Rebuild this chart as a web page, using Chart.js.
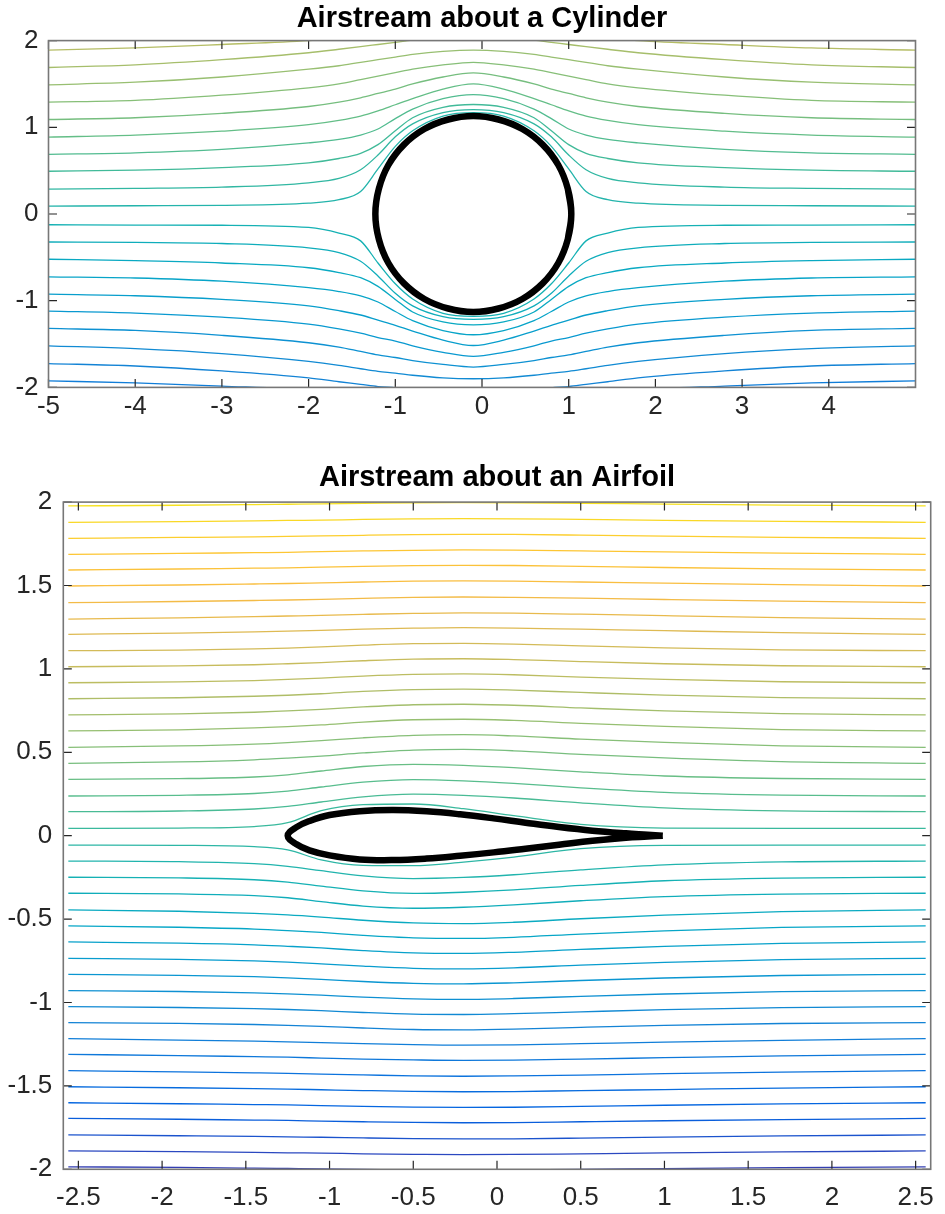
<!DOCTYPE html>
<html>
<head>
<meta charset="utf-8">
<script src="https://cdn.jsdelivr.net/npm/chart.js@4"></script>
<style>
  html, body { margin: 0; padding: 0; background: #fff; overflow: hidden; }
  body { width: 945px; height: 1214px; position: relative; }
  canvas { position: absolute; left: 0; }
  #cyl { top: 0; }
  #air { top: 440px; }
</style>
</head>
<body>
<canvas id="cyl" width="964" height="440"></canvas>
<canvas id="air" width="994" height="774"></canvas>
<script>
// tick values shown on the axes
const cylXTicks = [-5, -4, -3, -2, -1, 0, 1, 2, 3, 4];
const cylYTicks = [-2, -1, 0, 1, 2];
const airXTicks = [-2.5, -2, -1.5, -1, -0.5, 0, 0.5, 1, 1.5, 2, 2.5];
const airYTicks = [-2, -1.5, -1, -0.5, 0, 0.5, 1, 1.5, 2];

// cylinder streamlines: y read at each cylX position
const cylX = [-5, -4, -3, -2, -1.65, -1.4, -1.2, -1, -0.8, -0.45, -0.1, 0.25, 0.6, 0.8, 1, 1.2, 1.45, 1.8, 2.8, 3.8, 5];
const cylUpper = [
  [1.89, 1.915, 1.955, 2.0, 2.03, 2.06, 2.09, 2.12, 2.15, 2.19, 2.2, 2.19, 2.15, 2.12, 2.09, 2.06, 2.03, 2.0, 1.955, 1.915, 1.89],
  [1.69, 1.72, 1.78, 1.86, 1.9, 1.93, 1.955, 1.98, 2.005, 2.035, 2.045, 2.035, 2.005, 1.98, 1.955, 1.93, 1.9, 1.86, 1.78, 1.72, 1.69],
  [1.49, 1.52, 1.58, 1.67, 1.71, 1.75, 1.78, 1.81, 1.84, 1.875, 1.89, 1.875, 1.84, 1.81, 1.78, 1.75, 1.71, 1.67, 1.58, 1.52, 1.49],
  [1.29, 1.31, 1.37, 1.455, 1.5, 1.55, 1.59, 1.63, 1.67, 1.72, 1.75, 1.72, 1.67, 1.63, 1.59, 1.55, 1.5, 1.455, 1.37, 1.31, 1.29],
  [1.09, 1.11, 1.16, 1.24, 1.29, 1.34, 1.39, 1.44, 1.5, 1.58, 1.627, 1.58, 1.5, 1.44, 1.39, 1.34, 1.29, 1.24, 1.16, 1.11, 1.09],
  [0.887, 0.91, 0.955, 1.03, 1.08, 1.13, 1.19, 1.26, 1.33, 1.44, 1.5, 1.44, 1.33, 1.26, 1.19, 1.13, 1.08, 1.03, 0.955, 0.91, 0.887],
  [0.688, 0.705, 0.745, 0.82, 0.86, 0.91, 0.98, 1.1, 1.21, 1.33, 1.378, 1.33, 1.21, 1.1, 0.98, 0.91, 0.86, 0.82, 0.745, 0.705, 0.688],
  [0.493, 0.505, 0.535, 0.59, 0.64, 0.7, 0.8, 0.96, 1.11, 1.23, 1.263, 1.23, 1.11, 0.96, 0.8, 0.7, 0.64, 0.59, 0.535, 0.505, 0.493],
  [0.286, 0.295, 0.31, 0.36, 0.41, 0.51, 0.68, 0.89, 1.04, 1.17, 1.205, 1.17, 1.04, 0.89, 0.68, 0.51, 0.41, 0.36, 0.31, 0.295, 0.286],
  [0.091, 0.095, 0.1, 0.125, 0.165, 0.26, 0.52, 0.78, 0.96, 1.13, 1.17, 1.13, 0.96, 0.78, 0.52, 0.26, 0.165, 0.125, 0.1, 0.095, 0.091]
];
const cylLower = [
  [-0.124, -0.128, -0.13, -0.155, -0.22, -0.31, -0.565, -0.805, -0.98, -1.145, -1.18, -1.145, -0.98, -0.805, -0.565, -0.31, -0.22, -0.155, -0.13, -0.128, -0.124],
  [-0.323, -0.328, -0.34, -0.39, -0.445, -0.545, -0.715, -0.915, -1.06, -1.185, -1.215, -1.185, -1.06, -0.915, -0.715, -0.545, -0.445, -0.39, -0.34, -0.328, -0.323],
  [-0.522, -0.538, -0.565, -0.62, -0.675, -0.735, -0.835, -0.985, -1.13, -1.245, -1.278, -1.245, -1.13, -0.985, -0.835, -0.735, -0.675, -0.62, -0.565, -0.538, -0.522],
  [-0.725, -0.738, -0.775, -0.85, -0.895, -0.945, -1.015, -1.125, -1.23, -1.345, -1.393, -1.345, -1.23, -1.125, -1.015, -0.945, -0.895, -0.85, -0.775, -0.738, -0.725],
  [-0.925, -0.943, -0.985, -1.06, -1.115, -1.165, -1.225, -1.285, -1.35, -1.455, -1.517, -1.455, -1.35, -1.285, -1.225, -1.165, -1.115, -1.06, -0.985, -0.943, -0.925],
  [-1.12, -1.143, -1.19, -1.27, -1.325, -1.375, -1.425, -1.465, -1.52, -1.595, -1.643, -1.595, -1.52, -1.465, -1.425, -1.375, -1.325, -1.27, -1.19, -1.143, -1.12],
  [-1.32, -1.343, -1.4, -1.485, -1.535, -1.585, -1.625, -1.655, -1.69, -1.735, -1.765, -1.735, -1.69, -1.655, -1.625, -1.585, -1.535, -1.485, -1.4, -1.343, -1.32],
  [-1.52, -1.553, -1.61, -1.7, -1.745, -1.785, -1.815, -1.835, -1.86, -1.89, -1.9, -1.89, -1.86, -1.835, -1.815, -1.785, -1.745, -1.7, -1.61, -1.553, -1.52],
  [-1.725, -1.753, -1.81, -1.89, -1.935, -1.965, -1.99, -2.005, -2.025, -2.05, -2.055, -2.05, -2.025, -2.005, -1.99, -1.965, -1.935, -1.89, -1.81, -1.753, -1.725],
  [-1.925, -1.948, -1.985, -2.03, -2.065, -2.095, -2.125, -2.145, -2.17, -2.205, -2.21, -2.205, -2.17, -2.145, -2.125, -2.095, -2.065, -2.03, -1.985, -1.948, -1.925]
];
// cylinder outline (runs a little past one full turn so the join is hidden)
const cylEdgeX = [0.99, 1.03, 0.99, 0.88, 0.7, 0.465, 0.19, -0.1, -0.39, -0.665, -0.9, -1.08, -1.19, -1.23, -1.19, -1.08, -0.9, -0.665, -0.39, -0.1, 0.19, 0.465, 0.7, 0.88, 0.99, 1.03, 0.99];
const cylEdgeY = [-0.29, 0, 0.29, 0.565, 0.8, 0.98, 1.09, 1.13, 1.09, 0.98, 0.8, 0.565, 0.29, 0, -0.29, -0.565, -0.8, -0.98, -1.09, -1.13, -1.09, -0.98, -0.8, -0.565, -0.29, 0, 0.29];

// airfoil streamlines: y read at each airX position
const airX = [-2.56, -1.9, -1.45, -1.25, -1.05, -0.8, -0.5, -0.2, 0.1, 0.5, 1.0, 1.7, 2.56];
const airUpper = [
  [0.044, 0.046, 0.055, 0.078, 0.15, 0.186, 0.19, 0.162, 0.12, 0.068, 0.046, 0.044, 0.044],
  [0.144, 0.148, 0.16, 0.176, 0.202, 0.233, 0.249, 0.242, 0.226, 0.197, 0.167, 0.149, 0.144],
  [0.238, 0.242, 0.253, 0.267, 0.292, 0.321, 0.336, 0.329, 0.314, 0.287, 0.26, 0.243, 0.238],
  [0.338, 0.342, 0.352, 0.365, 0.388, 0.415, 0.428, 0.422, 0.408, 0.383, 0.358, 0.343, 0.338],
  [0.434, 0.442, 0.455, 0.465, 0.477, 0.496, 0.513, 0.517, 0.509, 0.488, 0.466, 0.444, 0.434],
  [0.53, 0.538, 0.549, 0.558, 0.57, 0.587, 0.602, 0.606, 0.598, 0.579, 0.559, 0.539, 0.53],
  [0.628, 0.635, 0.646, 0.654, 0.664, 0.681, 0.695, 0.698, 0.691, 0.674, 0.655, 0.636, 0.628],
  [0.724, 0.73, 0.74, 0.748, 0.757, 0.772, 0.785, 0.788, 0.782, 0.766, 0.748, 0.732, 0.724],
  [0.821, 0.827, 0.836, 0.842, 0.851, 0.865, 0.876, 0.879, 0.873, 0.859, 0.843, 0.828, 0.821],
  [0.917, 0.922, 0.93, 0.937, 0.945, 0.957, 0.967, 0.97, 0.965, 0.951, 0.937, 0.923, 0.917],
  [1.013, 1.018, 1.025, 1.031, 1.038, 1.049, 1.059, 1.061, 1.056, 1.044, 1.031, 1.019, 1.013],
  [1.109, 1.113, 1.12, 1.125, 1.132, 1.142, 1.151, 1.153, 1.149, 1.138, 1.126, 1.114, 1.109],
  [1.207, 1.215, 1.222, 1.226, 1.231, 1.238, 1.244, 1.247, 1.245, 1.238, 1.229, 1.217, 1.207],
  [1.299, 1.306, 1.313, 1.317, 1.321, 1.327, 1.333, 1.336, 1.334, 1.328, 1.319, 1.308, 1.299],
  [1.397, 1.404, 1.41, 1.413, 1.417, 1.423, 1.429, 1.431, 1.429, 1.424, 1.416, 1.406, 1.397],
  [1.497, 1.503, 1.509, 1.512, 1.516, 1.521, 1.526, 1.528, 1.526, 1.521, 1.514, 1.505, 1.497],
  [1.593, 1.599, 1.604, 1.606, 1.61, 1.615, 1.619, 1.621, 1.62, 1.615, 1.608, 1.6, 1.593],
  [1.687, 1.692, 1.697, 1.699, 1.703, 1.707, 1.711, 1.713, 1.712, 1.707, 1.701, 1.694, 1.687],
  [1.783, 1.788, 1.792, 1.795, 1.797, 1.801, 1.805, 1.807, 1.806, 1.802, 1.796, 1.789, 1.783],
  [1.879, 1.883, 1.887, 1.89, 1.892, 1.896, 1.899, 1.901, 1.9, 1.896, 1.891, 1.885, 1.879],
  [1.977, 1.981, 1.985, 1.987, 1.989, 1.992, 1.996, 1.997, 1.996, 1.993, 1.988, 1.982, 1.977]
];
const airLower = [
  [-0.056, -0.058, -0.066, -0.085, -0.145, -0.178, -0.18, -0.158, -0.128, -0.078, -0.058, -0.056, -0.056],
  [-0.152, -0.156, -0.168, -0.184, -0.21, -0.241, -0.257, -0.25, -0.234, -0.205, -0.175, -0.157, -0.152],
  [-0.249, -0.253, -0.264, -0.278, -0.302, -0.331, -0.346, -0.339, -0.325, -0.298, -0.27, -0.254, -0.249],
  [-0.345, -0.349, -0.359, -0.372, -0.395, -0.422, -0.435, -0.429, -0.415, -0.39, -0.365, -0.35, -0.345],
  [-0.445, -0.453, -0.466, -0.475, -0.488, -0.507, -0.523, -0.527, -0.519, -0.498, -0.476, -0.455, -0.445],
  [-0.541, -0.549, -0.56, -0.569, -0.58, -0.597, -0.612, -0.616, -0.609, -0.59, -0.57, -0.55, -0.541],
  [-0.637, -0.644, -0.654, -0.663, -0.673, -0.689, -0.703, -0.706, -0.699, -0.682, -0.663, -0.645, -0.637],
  [-0.735, -0.741, -0.751, -0.758, -0.768, -0.782, -0.795, -0.798, -0.792, -0.776, -0.759, -0.743, -0.735],
  [-0.831, -0.837, -0.845, -0.852, -0.861, -0.874, -0.885, -0.888, -0.882, -0.868, -0.853, -0.838, -0.831],
  [-0.929, -0.934, -0.942, -0.948, -0.956, -0.968, -0.978, -0.981, -0.976, -0.963, -0.949, -0.935, -0.929],
  [-1.025, -1.03, -1.037, -1.042, -1.049, -1.06, -1.07, -1.072, -1.067, -1.056, -1.043, -1.031, -1.025],
  [-1.121, -1.125, -1.132, -1.137, -1.143, -1.153, -1.162, -1.164, -1.16, -1.149, -1.137, -1.126, -1.121],
  [-1.217, -1.225, -1.232, -1.236, -1.24, -1.247, -1.253, -1.256, -1.254, -1.247, -1.238, -1.227, -1.217],
  [-1.311, -1.318, -1.325, -1.328, -1.333, -1.339, -1.344, -1.347, -1.345, -1.339, -1.331, -1.32, -1.311],
  [-1.409, -1.416, -1.422, -1.425, -1.429, -1.434, -1.44, -1.442, -1.44, -1.435, -1.427, -1.417, -1.409],
  [-1.505, -1.511, -1.516, -1.519, -1.523, -1.528, -1.533, -1.535, -1.534, -1.528, -1.522, -1.513, -1.505],
  [-1.601, -1.607, -1.612, -1.614, -1.618, -1.623, -1.627, -1.629, -1.628, -1.623, -1.616, -1.608, -1.601],
  [-1.695, -1.7, -1.705, -1.707, -1.711, -1.715, -1.719, -1.721, -1.72, -1.715, -1.709, -1.702, -1.695],
  [-1.794, -1.799, -1.803, -1.806, -1.808, -1.812, -1.816, -1.818, -1.817, -1.813, -1.807, -1.8, -1.794],
  [-1.89, -1.894, -1.898, -1.901, -1.903, -1.907, -1.91, -1.912, -1.911, -1.907, -1.902, -1.896, -1.89],
  [-1.985, -1.989, -1.993, -1.995, -1.997, -2.0, -2.004, -2.005, -2.004, -2.001, -1.996, -1.99, -1.985]
];
// airfoil outline: trailing edge -> upper surface -> nose -> lower surface -> trailing edge
const foilX = [0.99, 0.9, 0.77, 0.57, 0.37, 0.17, -0.02, -0.22, -0.42, -0.62, -0.82, -1.0, -1.12, -1.2, -1.25, -1.2, -1.12, -1.0, -0.82, -0.62, -0.42, -0.22, -0.02, 0.17, 0.37, 0.57, 0.77, 0.9, 0.99];
const foilY = [0, 0.006, 0.014, 0.03, 0.052, 0.078, 0.104, 0.128, 0.146, 0.154, 0.147, 0.124, 0.088, 0.05, 0, -0.05, -0.088, -0.118, -0.142, -0.146, -0.137, -0.12, -0.1, -0.078, -0.054, -0.03, -0.012, -0.005, 0];

const FONT = '"Liberation Sans", Arial, Helvetica, sans-serif';

// parula colormap, sampled every few entries
const parulaStops = [[53,42,135],[50,67,186],[3,99,225],[13,117,220],[20,133,212],[9,152,209],[6,167,198],[21,177,180],[56,185,158],[101,190,134],[146,191,115],[183,189,100],[217,186,86],[248,187,68],[254,200,50],[245,228,29],[249,251,14]];
function parula(t) {
  t = Math.min(1, Math.max(0, t)) * (parulaStops.length - 1);
  const i = Math.min(Math.floor(t), parulaStops.length - 2);
  const f = t - i;
  const a = parulaStops[i], b = parulaStops[i + 1];
  return 'rgb(' + a.map((v, k) => Math.round(v + (b[k] - v) * f)).join(',') + ')';
}

function streamSets(xs, rows, colorOf) {
  return rows.map(ys => ({
    data: xs.map((x, i) => ({ x: x, y: ys[i] })),
    showLine: true,
    borderColor: colorOf(ys[0]),
    borderWidth: 1.3,
    cubicInterpolationMode: 'monotone',
    pointRadius: 0,
    fill: false,
    clip: 0,
    order: 2
  }));
}

function outline(xs, ys) {
  return {
    data: xs.map((x, i) => ({ x: x, y: ys[i] })),
    showLine: true,
    borderColor: '#000',
    borderWidth: 6.5,
    backgroundColor: '#fff',
    fill: 'shape',
    tension: 0.4,
    pointRadius: 0,
    order: 1
  };
}

function axis(min, max, values, size, pad) {
  return {
    type: 'linear',
    min: min,
    max: max,
    grid: { display: false, drawTicks: false },
    border: { display: false },
    ticks: {
      color: '#262626',
      font: { family: FONT, size: 26 },
      padding: pad,
      autoSkip: false,
      maxRotation: 0,
      callback: v => String(v)
    },
    afterBuildTicks: s => { s.ticks = values.map(v => ({ value: v })); },
    afterFit: s => { if (s.isHorizontal()) s.height = size; else s.width = size; }
  };
}

// empty axis on the right, same width as the left one, so the title centres over the plot
function spacer(size) {
  return {
    position: 'right',
    min: 0,
    max: 1,
    grid: { display: false, drawTicks: false },
    border: { display: false },
    ticks: { display: false },
    afterFit: s => { s.width = size; }
  };
}

// box around the plot and MATLAB style inward ticks on all four sides
const frameAndTicks = {
  id: 'frameAndTicks',
  afterDatasetsDraw(chart) {
    const { ctx, chartArea: a, scales } = chart;
    const len = 8.5;
    ctx.save();
    ctx.strokeStyle = '#262626';
    ctx.lineWidth = 1.2;
    ctx.beginPath();
    scales.x.ticks.forEach(t => {
      const px = scales.x.getPixelForValue(t.value);
      ctx.moveTo(px, a.bottom); ctx.lineTo(px, a.bottom - len);
      ctx.moveTo(px, a.top); ctx.lineTo(px, a.top + len);
    });
    scales.y.ticks.forEach(t => {
      const py = scales.y.getPixelForValue(t.value);
      ctx.moveTo(a.left, py); ctx.lineTo(a.left + len, py);
      ctx.moveTo(a.right, py); ctx.lineTo(a.right - len, py);
    });
    ctx.stroke();
    ctx.strokeStyle = '#777';
    ctx.lineWidth = 1.6;
    ctx.strokeRect(a.left, a.top, a.right - a.left, a.bottom - a.top);
    ctx.restore();
  }
};

function makeChart(id, title, datasets, xAxis, yAxis, ySize, titlePad) {
  return new Chart(document.getElementById(id), {
    type: 'scatter',
    data: { datasets: datasets },
    options: {
      responsive: false,
      animation: false,
      events: [],
      layout: { padding: 0 },
      elements: { point: { radius: 0 }, line: { capBezierPoints: false } },
      plugins: {
        legend: { display: false },
        tooltip: { enabled: false },
        title: {
          display: true,
          text: title,
          color: '#000',
          font: { family: FONT, size: 29, weight: 'bold' },
          padding: titlePad
        }
      },
      scales: { x: xAxis, y: yAxis, yRight: spacer(ySize) }
    },
    plugins: [frameAndTicks]
  });
}

const cylColor = lv => parula((28.5 + 7.7 * lv) / 63);
const airColor = lv => parula((31 + 14 * lv) / 63);

makeChart('cyl', 'Airstream about a Cylinder',
  [outline(cylEdgeX, cylEdgeY)]
    .concat(streamSets(cylX, cylUpper, cylColor))
    .concat(streamSets(cylX, cylLower, cylColor)),
  axis(-5, 5, cylXTicks, 52.6, 4),
  axis(-2, 2, cylYTicks, 48.5, 10),
  48.5,
  { top: 1.1, bottom: 4.7 });

makeChart('air', 'Airstream about an Airfoil',
  [outline(foilX, foilY)]
    .concat(streamSets(airX, airUpper, airColor))
    .concat(streamSets(airX, airLower, airColor)),
  axis(-2.59, 2.59, airXTicks, 44.7, 13),
  axis(-2, 2, airYTicks, 63.3, 11),
  63.3,
  { top: 20.9, bottom: 6.4 });
</script>
</body>
</html>
